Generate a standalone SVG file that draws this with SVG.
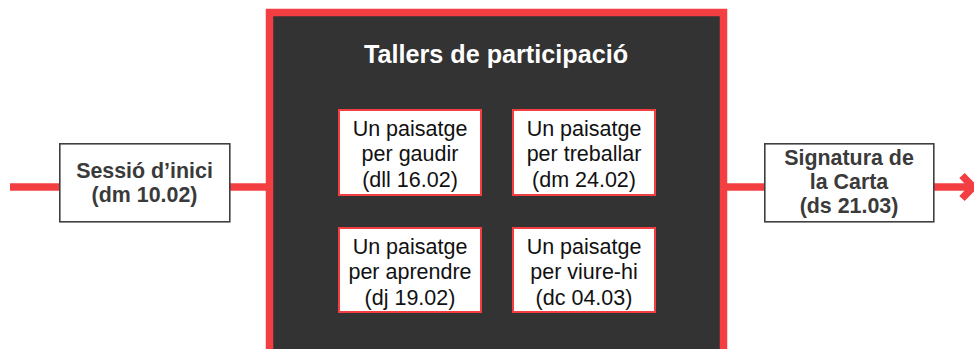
<svg xmlns="http://www.w3.org/2000/svg" width="974" height="349" viewBox="0 0 974 349">
<style>
.conn{stroke:#f33f42;stroke-width:7.5;fill:none}
.outer{fill:#fff;stroke:#404040;stroke-width:1.6}
.otext{font-family:"Liberation Sans",Arial,sans-serif;font-weight:bold;font-size:21.4px;fill:#3a3a3a;text-anchor:middle}
.inner{fill:#fff;stroke:#f33f42;stroke-width:2}
.itext{font-family:"Liberation Sans",Arial,sans-serif;font-size:21.5px;fill:#111;text-anchor:middle}
.title{font-family:"Liberation Sans",Arial,sans-serif;font-weight:bold;font-size:25.2px;fill:#fff;text-anchor:middle}
</style>
<rect width="974" height="349" fill="#fff"/>
<g id="connectors">
<line class="conn" x1="10" y1="187" x2="60" y2="187"/>
<line class="conn" x1="230" y1="187" x2="270" y2="187"/>
<line class="conn" x1="722" y1="187" x2="764" y2="187"/>
<line class="conn" x1="934" y1="187" x2="972" y2="187"/>
<polyline class="conn" points="962,175.5 973,187 962,198.5" stroke-linejoin="miter"/>
</g>
<g id="tallers">
<rect x="269.5" y="12.5" width="454" height="400" fill="#333333" stroke="#f33f42" stroke-width="7.5"/>
<text class="title" x="496" y="63">Tallers de participació</text>
</g>
<g id="sessio">
<rect class="outer" x="59.8" y="143.8" width="170" height="78"/>
<text class="otext" x="144.5" y="177.7">Sessió d’inici</text>
<text class="otext" x="144.5" y="201.7">(dm 10.02)</text>
</g>
<g id="gaudir">
<rect class="inner" x="339" y="110" width="142" height="85"/>
<text class="itext" x="410" y="135.7">Un paisatge</text>
<text class="itext" x="410" y="161.2">per gaudir</text>
<text class="itext" x="410" y="186.7">(dll 16.02)</text>
</g>
<g id="treballar">
<rect class="inner" x="513" y="110" width="142" height="85"/>
<text class="itext" x="584" y="135.7">Un paisatge</text>
<text class="itext" x="584" y="161.2">per treballar</text>
<text class="itext" x="584" y="186.7">(dm 24.02)</text>
</g>
<g id="aprendre">
<rect class="inner" x="339" y="228" width="142" height="84"/>
<text class="itext" x="410" y="253.5">Un paisatge</text>
<text class="itext" x="410" y="279">per aprendre</text>
<text class="itext" x="410" y="304.5">(dj 19.02)</text>
</g>
<g id="viure">
<rect class="inner" x="513" y="228" width="142" height="84"/>
<text class="itext" x="584" y="253.5">Un paisatge</text>
<text class="itext" x="584" y="279">per viure-hi</text>
<text class="itext" x="584" y="304.5">(dc 04.03)</text>
</g>
<g id="signatura">
<rect class="outer" x="764.8" y="143.8" width="169" height="78"/>
<text class="otext" x="849" y="165">Signatura de</text>
<text class="otext" x="849" y="189">la Carta</text>
<text class="otext" x="849" y="213">(ds 21.03)</text>
</g>
</svg>
